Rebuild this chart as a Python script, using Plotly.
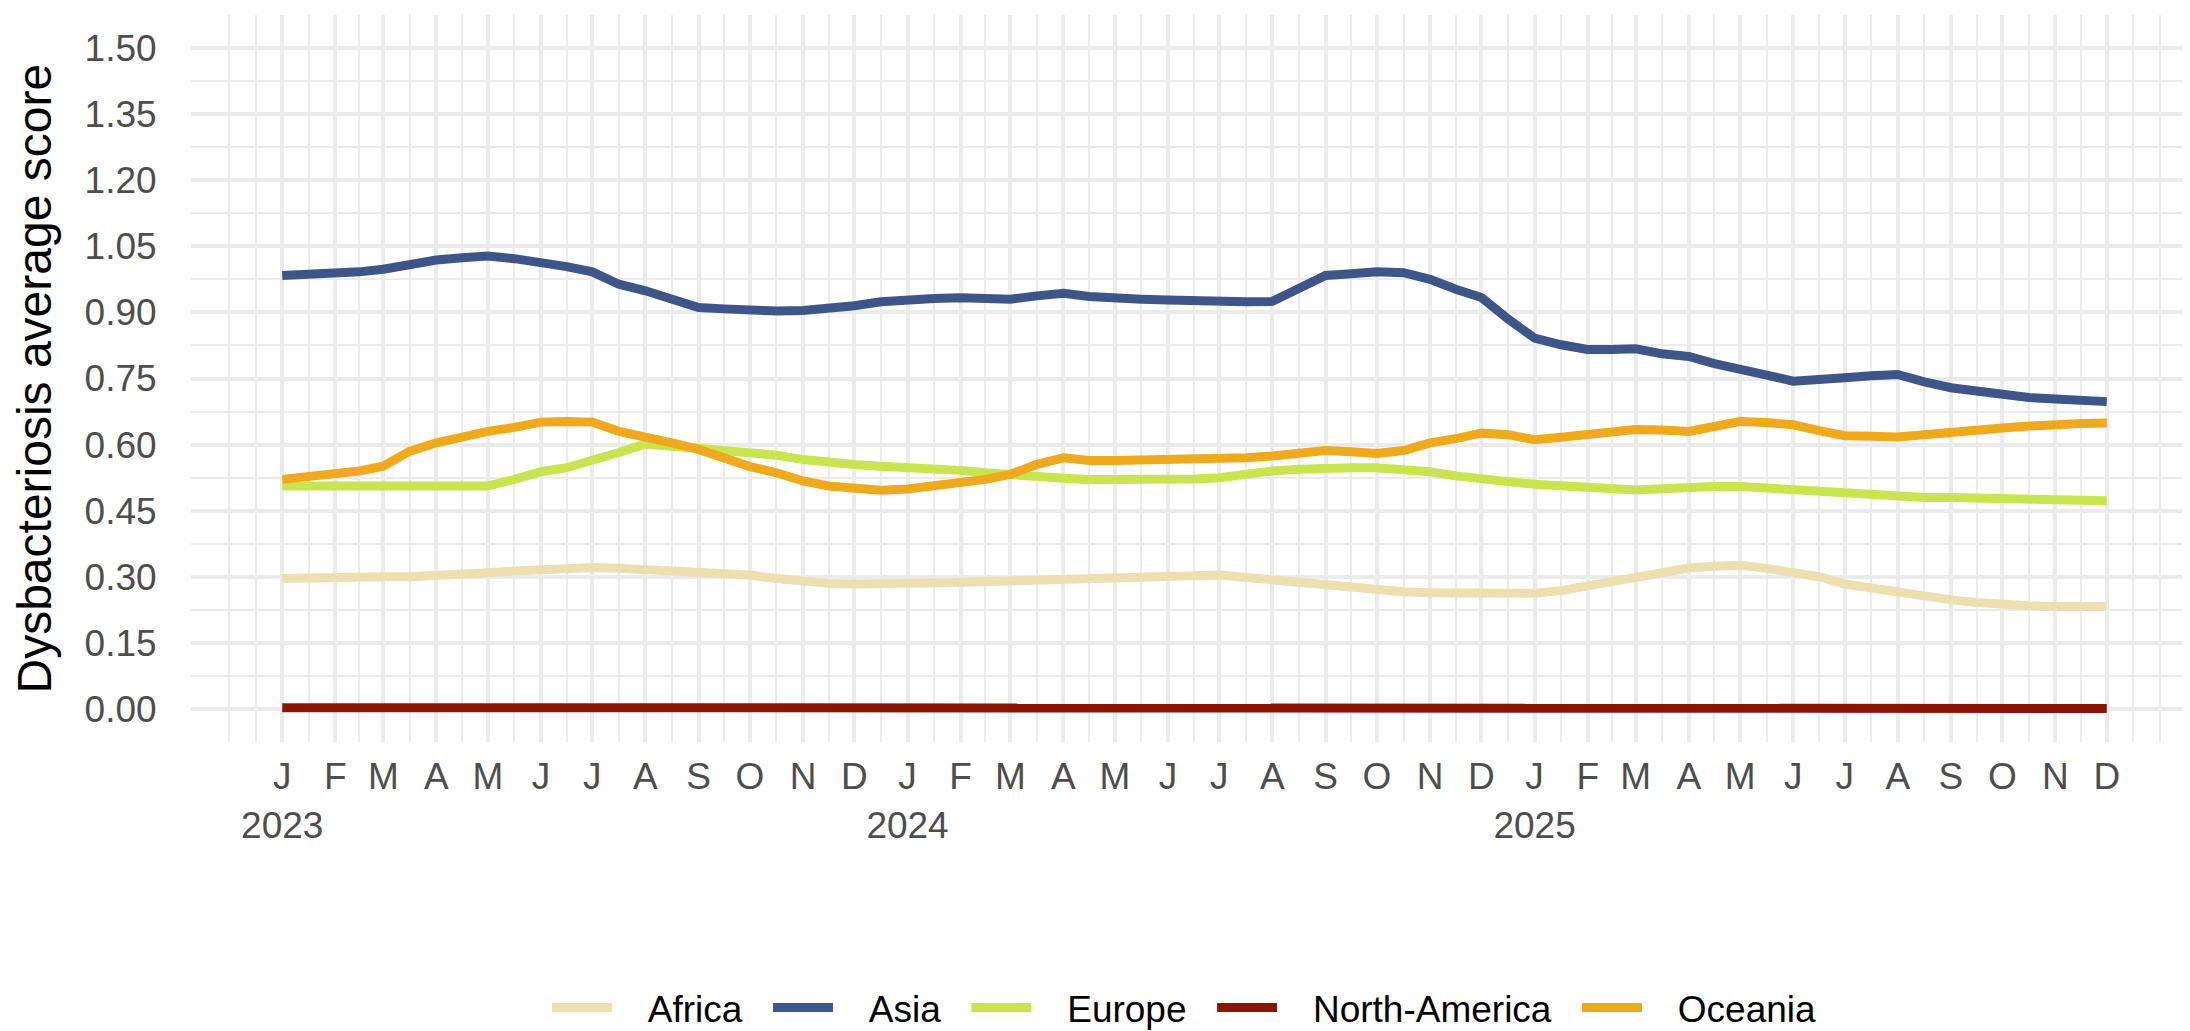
import pandas as pd
import plotly.graph_objects as go

# ---- categories: month starts and mid-month points, Jan 2023 .. Dec 2025 ----
month_starts = pd.date_range("2023-01-01", "2025-12-01", freq="MS")
month_letters = ["J", "F", "M", "A", "M", "J", "J", "A", "S", "O", "N", "D"]

dates = []
for i, m in enumerate(month_starts):
    dates.append(m)
    if i < len(month_starts) - 1:
        dates.append(m + (month_starts[i + 1] - m) / 2)

# ---- series values ----
africa = [
    0.296, 0.298, 0.300, 0.300, 0.300, 0.300, 0.3015, 0.306, 0.309, 0.313, 0.3165, 0.319,
    0.321, 0.3195, 0.317, 0.3135, 0.309, 0.306, 0.304, 0.296, 0.289, 0.285, 0.2835, 0.2835,
    0.285, 0.2865, 0.287, 0.289, 0.291, 0.2925, 0.2925, 0.296, 0.2985, 0.300, 0.3015, 0.303,
    0.304, 0.2985, 0.2925, 0.285, 0.279, 0.276, 0.270, 0.266, 0.264, 0.2625, 0.261, 0.261,
    0.2625, 0.2685, 0.279, 0.289, 0.300, 0.312, 0.320, 0.324, 0.326, 0.319, 0.309, 0.300,
    0.2835, 0.274, 0.264, 0.255, 0.2475, 0.2415, 0.236, 0.234, 0.2325, 0.2325, 0.2325,
]
asia = [
    0.984, 0.986, 0.989, 0.992, 0.998, 1.011, 1.019, 1.024, 1.028, 1.022, 1.014, 1.004,
    0.992, 0.964, 0.949, 0.928, 0.911, 0.908, 0.904, 0.903, 0.9045, 0.909, 0.915, 0.924,
    0.930, 0.9315, 0.933, 0.9315, 0.930, 0.9375, 0.9435, 0.936, 0.9315, 0.930, 0.928, 0.926,
    0.924, 0.924, 0.925, 0.9525, 0.984, 0.988, 0.992, 0.990, 0.975, 0.9525, 0.934, 0.885,
    0.8415, 0.8265, 0.816, 0.816, 0.8175, 0.806, 0.800, 0.784, 0.769, 0.7575, 0.744, 0.746,
    0.7515, 0.756, 0.759, 0.7425, 0.729, 0.7215, 0.7125, 0.707, 0.7035, 0.701, 0.6975,
]
europe = [
    0.506, 0.506, 0.506, 0.505, 0.504, 0.5025, 0.501, 0.504, 0.506, 0.521, 0.5385, 0.5475,
    0.5625, 0.582, 0.6015, 0.596, 0.5925, 0.589, 0.581, 0.576, 0.566, 0.559, 0.555, 0.551,
    0.549, 0.545, 0.5415, 0.536, 0.531, 0.5265, 0.5235, 0.521, 0.520, 0.519, 0.520, 0.522,
    0.525, 0.534, 0.540, 0.544, 0.5475, 0.5475, 0.5475, 0.544, 0.5385, 0.529, 0.521, 0.516,
    0.510, 0.506, 0.501, 0.499, 0.497, 0.500, 0.505, 0.505, 0.505, 0.501, 0.4965, 0.495,
    0.493, 0.4875, 0.4815, 0.480, 0.480, 0.4785, 0.476, 0.475, 0.474, 0.4725, 0.4725,
]
north_america = [
    0.003, 0.003, 0.003, 0.003, 0.0025, 0.002, 0.002, 0.0015, 0.001, 0.001, 0.001, 0.001,
    0.001, 0.001, 0.001, 0.001, 0.001, 0.001, 0.001, 0.001, 0.001, 0.001, 0.001, 0.001,
    0.001, 0.001, 0.001, 0.001, 0.001, 0.001, 0.001, 0.001, 0.001, 0.001, 0.001, 0.001,
    0.001, 0.001, 0.001, 0.001, 0.001, 0.0015, 0.002, 0.002, 0.0025, 0.003, 0.004, 0.004,
    0.004, 0.0035, 0.003, 0.0025, 0.002, 0.0015, 0.001, 0.001, 0.001, 0.001, 0.001, 0.001,
    0.001, 0.001, 0.001, 0.001, 0.001, 0.001, 0.001, 0.001, 0.001, 0.001, 0.001,
]
oceania = [
    0.521, 0.5265, 0.5325, 0.540, 0.551, 0.585, 0.604, 0.619, 0.630, 0.639, 0.651, 0.6525,
    0.651, 0.630, 0.619, 0.604, 0.589, 0.570, 0.550, 0.536, 0.5175, 0.506, 0.499, 0.4965,
    0.499, 0.506, 0.514, 0.521, 0.5325, 0.555, 0.570, 0.564, 0.564, 0.565, 0.5655, 0.564,
    0.564, 0.570, 0.574, 0.581, 0.5865, 0.5835, 0.580, 0.5865, 0.604, 0.6135, 0.626, 0.6225,
    0.611, 0.6165, 0.624, 0.6285, 0.634, 0.633, 0.630, 0.641, 0.6525, 0.650, 0.645, 0.6315,
    0.620, 0.619, 0.617, 0.6225, 0.626, 0.6315, 0.6375, 0.642, 0.6465, 0.648, 0.649,
]

region_names = ["Africa", "Asia", "Europe", "North-America", "Oceania"]
region_values = [africa, asia, europe, north_america, oceania]
region_colors = ["#EEDFB1", "#3E5589", "#C8E44E", "#8A1505", "#EEA91C"]

y_ticks = [0.00, 0.15, 0.30, 0.45, 0.60, 0.75, 0.90, 1.05, 1.20, 1.35, 1.50]

# ---- figure ----
NBSP = "\u00a0"
fig = go.Figure()
for name, vals, col in zip(region_names, region_values, region_colors):
    fig.add_trace(go.Scatter(
        x=dates, y=vals, mode="lines",
        name=NBSP * 3 + name + NBSP * 2,
        line=dict(color=col, width=9),
    ))

# axis ticks / gridlines (ggplot-like: monthly majors, mid-month minors)
x_tickvals = list(month_starts)
x_ticktext = [
    month_letters[m.month - 1] + ("<br>" + str(m.year) if m.month == 1 else "")
    for m in month_starts
]
ext = [month_starts[0] - pd.DateOffset(months=1)] + list(month_starts) + [month_starts[-1] + pd.DateOffset(months=1)]
x_minor = []
for i in range(len(ext) - 1):
    x_minor.append(ext[i + 1] - (ext[i + 1] - ext[i]) / 2)
x_minor = [ext[0]] + x_minor + [ext[-1]]
y_minor = [round(v - 0.075, 3) for v in y_ticks] + [1.575]

span = month_starts[-1] - month_starts[0]
x_range = [month_starts[0] - span * 0.05, month_starts[-1] + span * 0.05]

font_family = "Liberation Sans, Arial, sans-serif"
grid_col = "#EBEBEB"

fig.update_layout(
    width=2190, height=1031,
    margin=dict(l=183, r=0, t=7, b=291),
    paper_bgcolor="white", plot_bgcolor="white",
    font=dict(family=font_family, size=37, color="#4D4D4D"),
    showlegend=True,
    legend=dict(
        orientation="h", x=0.5, xanchor="center", y=-0.366, yanchor="middle",
        font=dict(family=font_family, size=37, color="#000000"),
        itemwidth=60, traceorder="normal",
    ),
)
fig.update_xaxes(
    type="date", range=x_range,
    tickmode="array", tickvals=x_tickvals, ticktext=x_ticktext, tickangle=0,
    ticks="outside", ticklen=2, tickcolor="rgba(0,0,0,0)",
    tickfont=dict(size=37, color="#4D4D4D"),
    showgrid=True, gridcolor=grid_col, gridwidth=4,
    minor=dict(tickmode="array", tickvals=x_minor, showgrid=True,
               gridcolor=grid_col, gridwidth=2.2, ticks=""),
    zeroline=False, showline=False,
)
fig.update_yaxes(
    range=[-0.075, 1.575],
    tickmode="array", tickvals=y_ticks, ticktext=[f"{v:.2f}" for v in y_ticks],
    ticks="outside", ticklen=26, tickcolor="rgba(0,0,0,0)",
    tickfont=dict(size=37, color="#4D4D4D"),
    showgrid=True, gridcolor=grid_col, gridwidth=4,
    minor=dict(tickmode="array", tickvals=y_minor, showgrid=True,
               gridcolor=grid_col, gridwidth=2.2, ticks=""),
    zeroline=False, showline=False,
)
fig.add_annotation(
    text="Dysbacteriosis average score", textangle=-90,
    xref="paper", yref="paper", x=0, y=0.5, xshift=-157,
    xanchor="center", yanchor="middle", showarrow=False,
    font=dict(family=font_family, size=48, color="#000000"),
)

fig.write_html("out.html")
